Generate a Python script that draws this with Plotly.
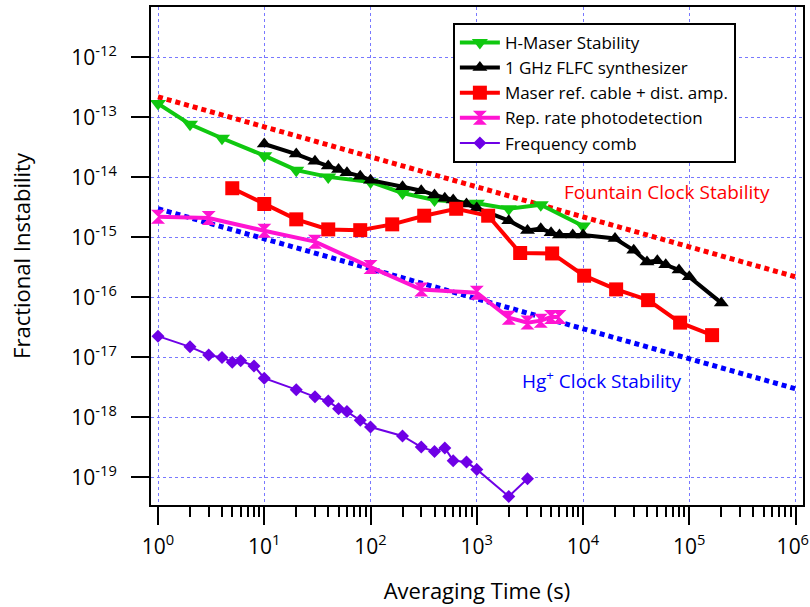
import plotly.graph_objects as go

# ---- data ----
hmaser_x = [1, 2, 4, 10, 20, 40, 100, 200, 400, 1000, 2000, 4000, 10000]
hmaser_y = [1.7e-13, 7.7e-14, 4.5e-14, 2.3e-14, 1.32e-14, 1.02e-14, 8.4e-15,
            5.5e-15, 4.2e-15, 3.7e-15, 3.0e-15, 3.5e-15, 1.55e-15]

flfc_x = [10, 20, 30, 40, 50, 60, 80, 100, 200, 300, 400, 500, 600, 800, 1000,
          2000, 3000, 4000, 5000, 6000, 8000, 10000, 20000, 30000, 40000, 50000,
          60000, 80000, 100000, 200000]
flfc_y = [3.6e-14, 2.45e-14, 1.85e-14, 1.55e-14, 1.36e-14, 1.2e-14, 1.05e-14, 9.0e-15,
          7.0e-15, 6.0e-15, 5.1e-15, 4.5e-15, 4.2e-15, 3.6e-15, 3.1e-15,
          1.9e-15, 1.3e-15, 1.4e-15, 1.2e-15, 1.1e-15, 1.1e-15, 1.1e-15, 9.6e-16, 6.1e-16,
          3.9e-16, 4.1e-16, 3.5e-16, 2.85e-16, 2.2e-16, 8.1e-17]

cable_x = [5, 10, 20, 40, 80, 160, 320, 640, 1280, 2560, 5120, 10240, 20480,
           40960, 81920, 163840]
cable_y = [6.6e-15, 3.6e-15, 2.0e-15, 1.36e-15, 1.32e-15, 1.65e-15, 2.3e-15, 3.0e-15,
           2.3e-15, 5.5e-16, 5.4e-16, 2.3e-16, 1.36e-16, 9.0e-17, 3.8e-17, 2.35e-17]

rep_x = [1, 3, 10, 30, 100, 300, 1000, 2000, 3000, 4000, 5000, 6000]
rep_y = [2.2e-15, 2.1e-15, 1.29e-15, 8.5e-16, 3.2e-16, 1.35e-16, 1.2e-16,
         4.6e-17, 3.8e-17, 4.1e-17, 4.7e-17, 4.7e-17]

comb_x = [1, 2, 3, 4, 5, 6, 8, 10, 20, 30, 40, 50, 60, 80, 100,
          200, 300, 400, 500, 600, 800, 1000, 2000, 3000]
comb_y = [2.26e-17, 1.5e-17, 1.1e-17, 1.0e-17, 8.3e-18, 8.8e-18, 7.2e-18, 4.5e-18,
          2.9e-18, 2.2e-18, 1.87e-18, 1.4e-18, 1.25e-18, 9.0e-19, 6.9e-19,
          4.9e-19, 3.2e-19, 2.7e-19, 3.1e-19, 1.9e-19, 1.8e-19, 1.36e-19, 4.8e-20, 9.5e-20]

# clock stability reference lines (sigma ~ 1/sqrt(tau))
clock_x = [1, 1e6]
fountain_y = [2.2e-13, 2.2e-16]
hg_y = [3.0e-15, 3.0e-18]

x_ticks = [1, 10, 100, 1000, 1e4, 1e5, 1e6]
x_ticktext = ["10<sup>%d</sup>" % i for i in range(7)]
x_ticktext[-1] += "\u00a0"  # nudge the last label so it stays on the page
y_ticks = [10.0 ** -e for e in range(12, 20)]
y_ticktext = ["10<sup>-%d</sup>" % e for e in range(12, 20)]
x_minor = [k * 10 ** d for d in range(6) for k in range(2, 10)]

FONT = "'Open Sans', sans-serif"

fig = go.Figure()

# dotted clock-stability lines
fig.add_trace(go.Scatter(x=clock_x, y=fountain_y, mode="lines", showlegend=False,
                         line=dict(color="#ff0000", width=5, dash="5px,4px")))
fig.add_trace(go.Scatter(x=clock_x, y=hg_y, mode="lines", showlegend=False,
                         line=dict(color="#0000ff", width=5, dash="5px,4px")))

series = [
    ("H-Maser Stability", hmaser_x, hmaser_y, "#10c810", "triangle-down", 14, 4),
    ("1 GHz FLFC synthesizer", flfc_x, flfc_y, "#000000", "triangle-up", 13, 4),
    ("Maser ref. cable + dist. amp.", cable_x, cable_y, "#ff0000", "square", 14, 4),
    ("Rep. rate photodetection", rep_x, rep_y, "#ff14d2", "hourglass", 14, 4),
    ("Frequency comb", comb_x, comb_y, "#6e00e6", "diamond", 10, 2),
]
for name, xs, ys, col, sym, ms, lw in series:
    fig.add_trace(go.Scatter(
        x=xs, y=ys, name=name, mode="lines+markers",
        line=dict(color=col, width=lw),
        marker=dict(symbol=sym, size=ms, color=col, line=dict(width=0)),
    ))

# labels for the clock lines (log-axis coords are exponents)
fig.add_annotation(x=4.79, y=-14.25, xref="x", yref="y", text="Fountain Clock Stability",
                   showarrow=False, font=dict(color="#ff0000", size=19, family=FONT))
fig.add_annotation(x=4.18, y=-17.38, xref="x", yref="y", text="Hg<sup>+</sup> Clock Stability",
                   showarrow=False, font=dict(color="#0000ff", size=19, family=FONT))

axis_common = dict(
    type="log", showline=True, linecolor="black", linewidth=2, mirror=True,
    ticks="outside", ticklen=18, tickwidth=2, tickcolor="black",
    showgrid=True, gridcolor="#7878ff", griddash="dot", gridwidth=1,
    zeroline=False, automargin=False, ticklabeloverflow="allow",
    tickfont=dict(size=21, color="black", family=FONT),
)

fig.update_layout(
    width=810, height=607,
    paper_bgcolor="white", plot_bgcolor="white",
    font=dict(family=FONT, size=18, color="black"),
    margin=dict(l=151, r=7, t=7, b=102),
    xaxis=dict(**axis_common, range=[-0.066, 6.07], tickvals=x_ticks, ticktext=x_ticktext,
               ticklabelstandoff=4,
               minor=dict(tickvals=x_minor, ticks="outside", ticklen=10, tickwidth=2,
                          tickcolor="black", showgrid=False),
               title=dict(text="Averaging Time (s)", font=dict(size=22, family=FONT),
                          standoff=24)),
    yaxis=dict(**axis_common, range=[-19.46, -11.16], tickvals=y_ticks, ticktext=y_ticktext,
               ticklabelstandoff=10,
               title=dict(text="Fractional Instability", font=dict(size=22, family=FONT),
                          standoff=35)),
    legend=dict(x=0.463, y=0.968, xanchor="left", yanchor="top",
                bgcolor="white", bordercolor="black", borderwidth=2,
                font=dict(size=17, family=FONT), itemwidth=40, tracegroupgap=0),
)

# the page's default 8px body margin would shift the whole figure
fig.write_html("out.html", config={"displayModeBar": False},
               post_script="document.body.style.margin='0px';")
